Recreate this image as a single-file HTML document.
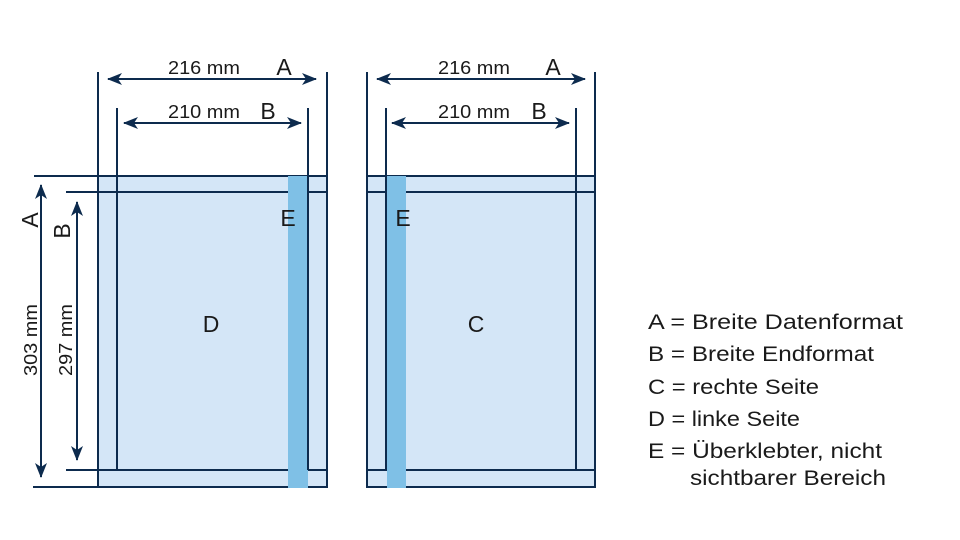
<!DOCTYPE html>
<html><head><meta charset="utf-8"><style>
html,body{margin:0;padding:0;background:#fff;}
svg{display:block;}
text{font-family:"Liberation Sans",sans-serif;fill:#1a1a1a;}
</style></head><body>
<svg width="960" height="540" viewBox="0 0 960 540" xmlns="http://www.w3.org/2000/svg">
<defs>
<marker id="ah" markerWidth="15" markerHeight="12" refX="14" refY="6" orient="auto-start-reverse" markerUnits="userSpaceOnUse">
<path d="M0,0 L15,6 L0,12 L4,6 Z" fill="#0d2b4e"/>
</marker>
</defs>
<g stroke="#0d2b4e" stroke-width="2" fill="none">
<rect x="98" y="176" width="229" height="311" fill="#d4e6f7" stroke="none"/>
<line x1="34" y1="176" x2="327" y2="176"/>
<line x1="66" y1="192" x2="327" y2="192"/>
<line x1="66" y1="470" x2="327" y2="470"/>
<line x1="33" y1="487" x2="327" y2="487"/>
<rect x="288" y="176" width="20" height="312" fill="#7fc0e6" stroke="none"/>
<line x1="98" y1="72" x2="98" y2="488"/>
<line x1="117" y1="108" x2="117" y2="470"/>
<line x1="308" y1="108" x2="308" y2="470"/>
<line x1="327" y1="72" x2="327" y2="488"/>
<rect x="367" y="176" width="228" height="311" fill="#d4e6f7" stroke="none"/>
<line x1="367" y1="176" x2="595" y2="176"/>
<line x1="367" y1="192" x2="595" y2="192"/>
<line x1="367" y1="470" x2="595" y2="470"/>
<line x1="367" y1="487" x2="595" y2="487"/>
<rect x="387" y="176" width="19" height="312" fill="#7fc0e6" stroke="none"/>
<line x1="367" y1="72" x2="367" y2="488"/>
<line x1="386" y1="108" x2="386" y2="470"/>
<line x1="576" y1="108" x2="576" y2="470"/>
<line x1="595" y1="72" x2="595" y2="488"/>
<line x1="108" y1="79" x2="316" y2="79" marker-start="url(#ah)" marker-end="url(#ah)"/>
<line x1="124" y1="123" x2="301" y2="123" marker-start="url(#ah)" marker-end="url(#ah)"/>
<line x1="377" y1="79" x2="585" y2="79" marker-start="url(#ah)" marker-end="url(#ah)"/>
<line x1="392" y1="123" x2="569" y2="123" marker-start="url(#ah)" marker-end="url(#ah)"/>
<line x1="41" y1="185" x2="41" y2="477" marker-start="url(#ah)" marker-end="url(#ah)"/>
<line x1="77" y1="202" x2="77" y2="460" marker-start="url(#ah)" marker-end="url(#ah)"/>
</g>
<g font-size="18">
<text x="168" y="74" textLength="72" lengthAdjust="spacingAndGlyphs">216 mm</text>
<text x="438" y="74" textLength="72" lengthAdjust="spacingAndGlyphs">216 mm</text>
<text x="168" y="118" textLength="72" lengthAdjust="spacingAndGlyphs">210 mm</text>
<text x="438" y="118" textLength="72" lengthAdjust="spacingAndGlyphs">210 mm</text>
<text transform="translate(37,376) rotate(-90)" textLength="72" lengthAdjust="spacingAndGlyphs">303 mm</text>
<text transform="translate(72,376) rotate(-90)" textLength="72" lengthAdjust="spacingAndGlyphs">297 mm</text>
</g>
<g font-size="23">
<text x="284" y="75" text-anchor="middle">A</text>
<text x="553" y="75" text-anchor="middle">A</text>
<text x="268" y="119" text-anchor="middle">B</text>
<text x="539" y="119" text-anchor="middle">B</text>
<text transform="translate(38,220) rotate(-90)" text-anchor="middle">A</text>
<text transform="translate(70,231) rotate(-90)" text-anchor="middle">B</text>
<text x="288" y="226" text-anchor="middle">E</text>
<text x="403" y="226" text-anchor="middle">E</text>
<text x="211" y="332" text-anchor="middle">D</text>
<text x="476" y="332" text-anchor="middle">C</text>
</g>
<g font-size="21">
<text x="648" y="329" textLength="255" lengthAdjust="spacingAndGlyphs">A = Breite Datenformat</text>
<text x="648" y="361" textLength="226" lengthAdjust="spacingAndGlyphs">B = Breite Endformat</text>
<text x="648" y="394" textLength="171" lengthAdjust="spacingAndGlyphs">C = rechte Seite</text>
<text x="648" y="426" textLength="152" lengthAdjust="spacingAndGlyphs">D = linke Seite</text>
<text x="648" y="458" textLength="234" lengthAdjust="spacingAndGlyphs">E = Überklebter, nicht</text>
<text x="690" y="485" textLength="196" lengthAdjust="spacingAndGlyphs">sichtbarer Bereich</text>
</g>
</svg>
</body></html>
